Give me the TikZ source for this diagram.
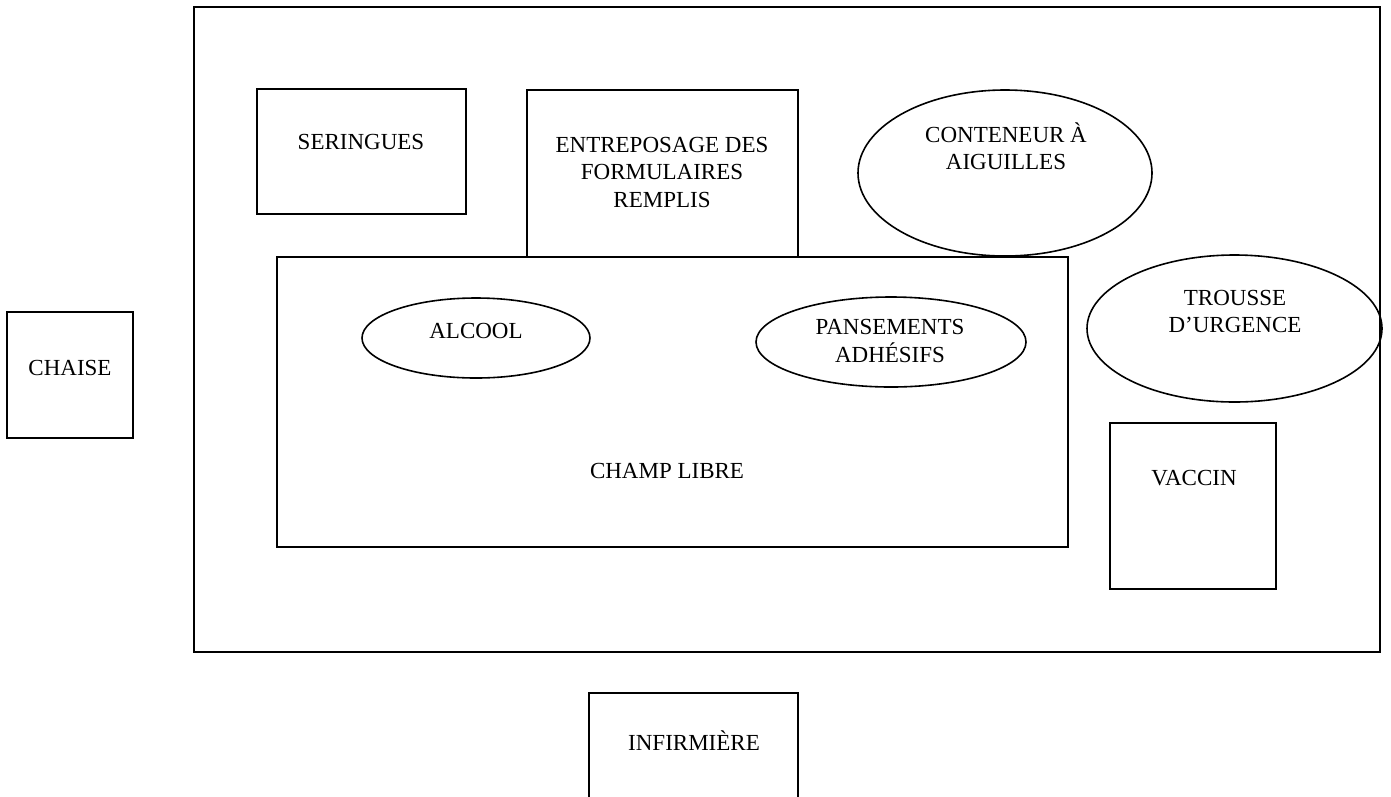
\documentclass[tikz,border=0pt]{standalone}
\usepackage{fontspec}
\setmainfont{Liberation Serif}
\usetikzlibrary{shapes.geometric}
\tikzset{
  shp/.style={draw=black, line width=1.6pt, inner sep=0pt, outer sep=0pt},
  boxr/.style={shp, rectangle},
  ell/.style={shp, ellipse},
  lbl/.style={inner sep=0pt, anchor=base, align=center, font=\fontsize{23}{27.5}\selectfont}
}
\begin{document}
\begin{tikzpicture}[x=1pt, y=-1pt]
\useasboundingbox (0,0) rectangle (1391,796);
\clip (0,0) rectangle (1391,796);
% room
\node[boxr, minimum width=1186pt, minimum height=645pt] (room) at (787,329.5) {};
% furniture
\node[boxr, minimum width=209pt, minimum height=125pt] (ser) at (361.5,151.5) {};
\node[boxr, minimum width=271pt, minimum height=167pt] (ent) at (662.5,173.5) {};
\node[ell, minimum width=294pt, minimum height=166pt] (cont) at (1005,173) {};
\node[boxr, minimum width=791pt, minimum height=290pt] (champ) at (672.5,402) {};
\node[ell, minimum width=228pt, minimum height=80pt] (alc) at (476,338) {};
\node[ell, minimum width=270pt, minimum height=90pt] (pans) at (891,342) {};
\node[ell, minimum width=295pt, minimum height=147pt] (trou) at (1234.5,328.5) {};
\node[boxr, minimum width=166pt, minimum height=166pt] (vac) at (1193,506) {};
\node[boxr, minimum width=126pt, minimum height=126pt] (chaise) at (70,375) {};
\node[boxr, minimum width=209pt, minimum height=160pt] (inf) at (693.5,773) {};
% labels (base anchor = baseline of the last line)
\node[lbl] (tser) at (361,149) {SERINGUES};
\node[lbl] (tent) at (662,207) {ENTREPOSAGE DES\\FORMULAIRES\\REMPLIS};
\node[lbl] (tcont) at (1006,169.5) {CONTENEUR À\\AIGUILLES};
\node[lbl] (talc) at (476,338) {ALCOOL};
\node[lbl] (tpans) at (890,362) {PANSEMENTS\\ADHÉSIFS};
\node[lbl] (ttrou) at (1235,332.5) {TROUSSE\\D’URGENCE};
\node[lbl] (tchamp) at (667,478) {CHAMP LIBRE};
\node[lbl] (tvac) at (1194,485) {VACCIN};
\node[lbl] (tchaise) at (70,375) {CHAISE};
\node[lbl] (tinf) at (694,750) {INFIRMIÈRE};
\end{tikzpicture}
\end{document}
